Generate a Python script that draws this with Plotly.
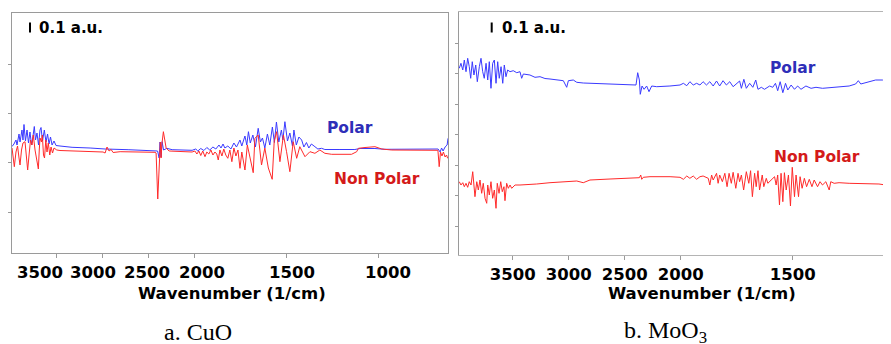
import numpy as np
import plotly.graph_objects as go

# ---------------- data (wavenumber in 1/cm, absorbance in a.u.) ----------------
cuo_polar_wn = [3978, 3957, 3935, 3924, 3902, 3891, 3870, 3859, 3848, 3832, 3815, 3799, 3783, 3766,
                3750, 3736, 3723, 3707, 3690, 3674, 3663, 3647, 3627, 3609, 3592, 3576, 3560, 3543,
                3522, 3500, 3457, 3326, 3130, 2967, 2717, 2424, 2397, 2380, 2370, 2359, 2348, 2332,
                2296, 2239, 2022, 1991, 1980, 1964, 1947, 1931, 1915, 1898, 1882, 1865, 1854, 1843,
                1833, 1817, 1800, 1784, 1770, 1751, 1741, 1724, 1714, 1705, 1695, 1681, 1667, 1652,
                1640, 1629, 1616, 1602, 1589, 1575, 1564, 1553, 1540, 1526, 1518, 1507, 1493, 1480,
                1466, 1458, 1445, 1431, 1416, 1404, 1390, 1377, 1363, 1344, 1328, 1308, 1290, 1208,
                1127, 1099, 1018, 964, 773, 675, 664, 656, 648, 637, 626, 621]
cuo_polar_ab = [0.16, 0.185, 0.225, 0.175, 0.285, 0.205, 0.325, 0.225, 0.38, 0.215, 0.325, 0.195, 0.305, 0.175,
                0.265, 0.36, 0.225, 0.295, 0.175, 0.325, 0.35, 0.215, 0.325, 0.205, 0.285, 0.185, 0.255, 0.175,
                0.215, 0.17, 0.165, 0.152, 0.145, 0.135, 0.128, 0.122, 0.115, 0.045, 0.205, 0.055, 0.208, 0.125,
                0.142, 0.128, 0.122, 0.135, 0.115, 0.14, 0.12, 0.15, 0.125, 0.155, 0.135, 0.175, 0.145, 0.185,
                0.145, 0.165, 0.135, 0.195, 0.155, 0.225, 0.165, 0.265, 0.175, 0.308, 0.195, 0.275, 0.155, 0.342,
                0.205, 0.245, 0.145, 0.285, 0.175, 0.355, 0.2, 0.405, 0.205, 0.325, 0.225, 0.408, 0.215, 0.295,
                0.165, 0.325, 0.175, 0.255, 0.225, 0.155, 0.2, 0.145, 0.185, 0.158, 0.135, 0.142, 0.13, 0.13,
                0.13, 0.14, 0.14, 0.132, 0.132, 0.135, 0.105, 0.145, 0.115, 0.155, 0.175, 0.242]

cuo_nonpolar_wn = [3978, 3967, 3953, 3935, 3918, 3902, 3891, 3875, 3859, 3837, 3821, 3808, 3793, 3777,
                   3761, 3747, 3728, 3710, 3692, 3682, 3674, 3658, 3649, 3636, 3625, 3611, 3598, 3584,
                   3568, 3554, 3538, 3522, 3492, 3457, 3326, 3076, 2989, 2967, 2946, 2924, 2902, 2880,
                   2804, 2424, 2413, 2395, 2384, 2375, 2367, 2359, 2351, 2334, 2321, 2304, 2272, 2152,
                   2022, 1996, 1985, 1974, 1964, 1953, 1941, 1931, 1920, 1909, 1898, 1887, 1877, 1869,
                   1860, 1849, 1839, 1828, 1817, 1806, 1795, 1784, 1773, 1762, 1751, 1741, 1724, 1711,
                   1697, 1679, 1670, 1652, 1634, 1616, 1597, 1583, 1576, 1565, 1552, 1534, 1515, 1498,
                   1480, 1462, 1443, 1426, 1398, 1371, 1344, 1317, 1290, 1253, 1145, 1117, 1108, 1072,
                   1018, 981, 927, 676, 669, 662, 654, 646, 637, 629, 623]
cuo_nonpolar_ab = [0.145, 0.075, -0.042, 0.105, 0.165, 0.045, -0.025, 0.125, 0.195, 0.208, 0.075, -0.075, 0.075, 0.225,
                   0.175, 0.275, 0.125, 0.005, -0.065, 0.125, 0.245, 0.205, 0.275, 0.075, 0.045, 0.225, 0.105, 0.195,
                   0.075, 0.155, 0.095, 0.145, 0.125, 0.12, 0.115, 0.112, 0.105, 0.095, 0.155, 0.115, 0.13, 0.1,
                   0.108, 0.102, 0.095, -0.365, -0.075, 0.125, 0.205, 0.045, 0.175, 0.308, 0.245, 0.145, 0.115, 0.11,
                   0.105, 0.115, 0.085, 0.115, 0.07, 0.115, 0.058, 0.105, 0.085, 0.125, 0.075, 0.105, 0.085, 0.025,
                   0.125, 0.065, 0.135, 0.075, 0.042, 0.125, 0.008, 0.145, 0.065, 0.125, -0.058, 0.105, -0.075, 0.175,
                   0.045, -0.102, 0.242, 0.275, -0.025, 0.145, -0.055, -0.135, -0.168, 0.215, 0.308, 0.008, 0.275, 0.108,
                   -0.092, 0.208, 0.042, 0.158, 0.058, 0.108, 0.092, 0.125, 0.092, 0.082, 0.082, 0.108, 0.142, 0.15,
                   0.158, 0.135, 0.125, 0.122, -0.042, 0.105, 0.065, 0.105, 0.055, 0.075, 0.042]

moo3_polar_wn = [3977, 3962, 3946, 3932, 3917, 3902, 3888, 3875, 3861, 3846, 3830, 3816, 3798, 3783,
                 3768, 3754, 3738, 3723, 3709, 3694, 3679, 3664, 3649, 3634, 3620, 3604, 3589, 3575,
                 3560, 3545, 3524, 3495, 3464, 3435, 3420, 3405, 3346, 3301, 3256, 3212, 3167, 3107,
                 3048, 3018, 3003, 2959, 2928, 2870, 2810, 2720, 2631, 2512, 2423, 2399, 2384, 2369,
                 2361, 2345, 2327, 2304, 2283, 2259, 2214, 2155, 2096, 2006, 1988, 1973, 1959, 1944,
                 1929, 1914, 1900, 1885, 1870, 1855, 1840, 1826, 1811, 1796, 1781, 1766, 1751, 1737,
                 1729, 1718, 1707, 1692, 1678, 1665, 1655, 1640, 1626, 1603, 1589, 1577, 1567, 1556,
                 1544, 1532, 1522, 1507, 1492, 1478, 1463, 1441, 1418, 1396, 1367, 1307, 1248, 1219,
                 1207, 1196, 1159, 1130, 1100, 1070, 1058]
moo3_polar_ab = [1.577, 1.627, 1.56, 1.66, 1.543, 1.677, 1.593, 1.477, 1.643, 1.51, 1.61, 1.443, 1.593, 1.677,
                 1.543, 1.477, 1.627, 1.46, 1.643, 1.377, 1.627, 1.66, 1.427, 1.643, 1.477, 1.593, 1.427, 1.61,
                 1.493, 1.56, 1.543, 1.553, 1.533, 1.543, 1.477, 1.52, 1.51, 1.487, 1.493, 1.475, 1.47, 1.46,
                 1.453, 1.387, 1.453, 1.46, 1.437, 1.43, 1.427, 1.423, 1.42, 1.413, 1.41, 1.41, 1.533, 1.46,
                 1.317, 1.40, 1.367, 1.40, 1.343, 1.40, 1.393, 1.40, 1.40, 1.41, 1.427, 1.403, 1.443, 1.41,
                 1.427, 1.41, 1.443, 1.41, 1.443, 1.40, 1.45, 1.40, 1.453, 1.41, 1.443, 1.393, 1.427, 1.45,
                 1.377, 1.467, 1.377, 1.427, 1.387, 1.46, 1.367, 1.387, 1.367, 1.40, 1.387, 1.427, 1.353, 1.443,
                 1.333, 1.427, 1.36, 1.41, 1.367, 1.40, 1.367, 1.40, 1.377, 1.387, 1.377, 1.387, 1.40, 1.42,
                 1.453, 1.42, 1.443, 1.46, 1.46, 1.443, 1.44]

moo3_nonpolar_wn = [3977, 3962, 3946, 3932, 3917, 3902, 3888, 3872, 3857, 3846, 3837, 3821, 3807, 3792,
                    3777, 3763, 3747, 3732, 3723, 3709, 3694, 3679, 3664, 3649, 3638, 3622, 3607, 3593,
                    3578, 3569, 3554, 3539, 3524, 3509, 3479, 3435, 3375, 3286, 3167, 3018, 2928, 2870,
                    2810, 2631, 2453, 2369, 2357, 2348, 2334, 2274, 2095, 2006, 1988, 1973, 1959, 1944,
                    1929, 1914, 1900, 1877, 1870, 1862, 1855, 1840, 1833, 1826, 1814, 1803, 1793, 1784,
                    1774, 1766, 1754, 1744, 1737, 1729, 1719, 1707, 1696, 1688, 1680, 1670, 1663, 1655,
                    1648, 1636, 1629, 1618, 1611, 1596, 1581, 1574, 1567, 1559, 1552, 1544, 1537, 1529,
                    1519, 1510, 1502, 1492, 1485, 1474, 1467, 1458, 1448, 1438, 1426, 1414, 1404, 1389,
                    1378, 1367, 1352, 1337, 1330, 1315, 1293, 1248, 1204, 1159, 1115, 1085, 1066, 1058]
moo3_nonpolar_ab = [0.443, 0.41, 0.433, 0.393, 0.427, 0.387, 0.443, 0.41, 0.543, 0.393, 0.293, 0.443, 0.36, 0.46,
                    0.327, 0.427, 0.277, 0.227, 0.41, 0.31, 0.443, 0.277, 0.36, 0.177, 0.427, 0.327, 0.443, 0.343,
                    0.393, 0.253, 0.427, 0.377, 0.41, 0.377, 0.41, 0.41, 0.417, 0.42, 0.433, 0.44, 0.45, 0.433,
                    0.46, 0.47, 0.483, 0.483, 0.51, 0.467, 0.487, 0.493, 0.493, 0.487, 0.467, 0.50, 0.477, 0.50,
                    0.467, 0.493, 0.50, 0.477, 0.41, 0.51, 0.46, 0.527, 0.427, 0.51, 0.443, 0.527, 0.393, 0.527,
                    0.427, 0.537, 0.377, 0.527, 0.443, 0.51, 0.36, 0.543, 0.427, 0.553, 0.293, 0.527, 0.393, 0.553,
                    0.36, 0.51, 0.393, 0.477, 0.427, 0.46, 0.493, 0.41, 0.51, 0.21, 0.527, 0.243, 0.533, 0.36,
                    0.51, 0.20, 0.587, 0.293, 0.51, 0.293, 0.493, 0.377, 0.477, 0.393, 0.467, 0.393, 0.46, 0.393,
                    0.443, 0.41, 0.443, 0.36, 0.443, 0.427, 0.433, 0.427, 0.427, 0.42, 0.42, 0.41, 0.393, 0.39]

tick_wn_cuo = [3500, 3000, 2500, 2000, 1500, 1000]
tick_wn_moo3 = [3500, 3000, 2500, 2000, 1500]

# ---------------- helpers ----------------
OFF = 8                      # the page body has an 8 px margin
W, H = 891 - OFF, 344 - OFF  # figure size so that it fills the window
def px(x):  # window pixel -> paper x
    return (x - OFF) / W
def py(y):  # window pixel -> paper y
    return 1 - (y - OFF) / H

def t(w):
    """FTIR-style axis: scale doubles below 2000 1/cm."""
    w = np.asarray(w, dtype=float)
    return np.where(w >= 2000, w, 2 * w - 2000)

BLUE = "#3a3aff"
RED = "#ff2a2a"
AXC = "#9a9a9a"
SANS = "DejaVu Sans"

fig = go.Figure()
fig.add_trace(go.Scatter(x=t(cuo_polar_wn), y=cuo_polar_ab, mode="lines",
                         line=dict(color=BLUE, width=1), xaxis="x", yaxis="y", showlegend=False))
fig.add_trace(go.Scatter(x=t(cuo_nonpolar_wn), y=cuo_nonpolar_ab, mode="lines",
                         line=dict(color=RED, width=1), xaxis="x", yaxis="y", showlegend=False))
fig.add_trace(go.Scatter(x=t(moo3_polar_wn), y=moo3_polar_ab, mode="lines",
                         line=dict(color=BLUE, width=1), xaxis="x2", yaxis="y2", showlegend=False))
fig.add_trace(go.Scatter(x=t(moo3_nonpolar_wn), y=moo3_nonpolar_ab, mode="lines",
                         line=dict(color=RED, width=1), xaxis="x2", yaxis="y2", showlegend=False))

tickfont = dict(family=SANS, size=16.5, color="black", weight="bold")

fig.update_layout(
    width=W, height=H, margin=dict(l=0, r=0, t=0, b=0),
    paper_bgcolor="white", plot_bgcolor="white",
    xaxis=dict(domain=[px(11.7), px(448)], range=[3981.5, -757.6],
               tickvals=list(t(tick_wn_cuo)), showticklabels=False,
               ticks="outside", ticklen=4, tickcolor=AXC,
               showline=True, linecolor=AXC, linewidth=1.2, mirror=True,
               showgrid=False, zeroline=False),
    yaxis=dict(domain=[py(253), py(13)], range=[-0.905, 1.495],
               tickvals=[-0.495, 0, 0.49, 0.98], showticklabels=False,
               ticks="outside", ticklen=4, tickcolor=AXC,
               showline=True, linecolor=AXC, linewidth=1.2, mirror=True,
               showgrid=False, zeroline=False),
    xaxis2=dict(domain=[px(459), 1.0], range=[3979.5, 122.3], anchor="y2",
                tickvals=list(t(tick_wn_moo3)), ticktext=[str(v) for v in tick_wn_moo3],
                tickfont=tickfont, ticks="outside", ticklen=4, tickcolor=AXC,
                showline=True, linecolor="#b4b4b4", linewidth=1.2, mirror=True,
                showgrid=False, zeroline=False),
    yaxis2=dict(domain=[py(255), py(12)], range=[-0.29, 2.14], anchor="x2",
                tickvals=[0, 0.305, 0.61, 0.915, 1.22, 1.525, 1.83], showticklabels=False,
                ticks="outside", ticklen=3, tickcolor=AXC,
                showline=True, linecolor=AXC, linewidth=1.2, mirror=False,
                showgrid=False, zeroline=False),
)

ann = []
# left panel tick labels (drawn as text, as they sit in the reference)
for lab, cx in zip(tick_wn_cuo, [40, 93, 147, 202, 292, 388]):
    ann.append(dict(text=str(lab), x=px(cx), y=py(272), xref="paper", yref="paper",
                    xanchor="center", yanchor="middle", showarrow=False, font=tickfont))
# axis titles
for cx in [232, 701.5]:
    ann.append(dict(text="Wavenumber (1/cm)", x=px(cx), y=py(293), xref="paper", yref="paper",
                    xanchor="center", yanchor="middle", showarrow=False, font=tickfont))
# scale labels
for lx in [36.7, 500]:
    ann.append(dict(text="0.1 a.u.", x=px(lx), y=py(27.5), xref="paper", yref="paper",
                    xanchor="left", yanchor="middle", showarrow=False,
                    font=dict(family=SANS, size=15, color="black", weight="bold")))
# series labels
for txt, cx, cy, col in [("Polar", 350, 128, "#2e2eb8"), ("Non Polar", 376.7, 179, "#d41a1a"),
                         ("Polar", 793, 67.7, "#2e2eb8"), ("Non Polar", 817, 156.7, "#d41a1a")]:
    ann.append(dict(text=txt, x=px(cx), y=py(cy), xref="paper", yref="paper",
                    xanchor="center", yanchor="middle", showarrow=False,
                    font=dict(family=SANS, size=15.5, color=col, weight="bold")))
# captions
for txt, cx in [("a. CuO", 197.5), ("b. MoO<sub>3</sub>", 665)]:
    ann.append(dict(text=txt, x=px(cx), y=py(332), xref="paper", yref="paper",
                    xanchor="center", yanchor="middle", showarrow=False,
                    font=dict(family="Liberation Serif", size=24, color="black")))
fig.update_layout(annotations=ann)

# 0.1 a.u. scale bars
fig.add_shape(type="line", xref="paper", yref="y", x0=px(30), x1=px(30), y0=1.30, y1=1.40,
              line=dict(color="black", width=2))
fig.add_shape(type="line", xref="paper", yref="y2", x0=px(491.7), x1=px(491.7), y0=1.935, y1=2.035,
              line=dict(color="black", width=2))

fig.write_html("out.html")
